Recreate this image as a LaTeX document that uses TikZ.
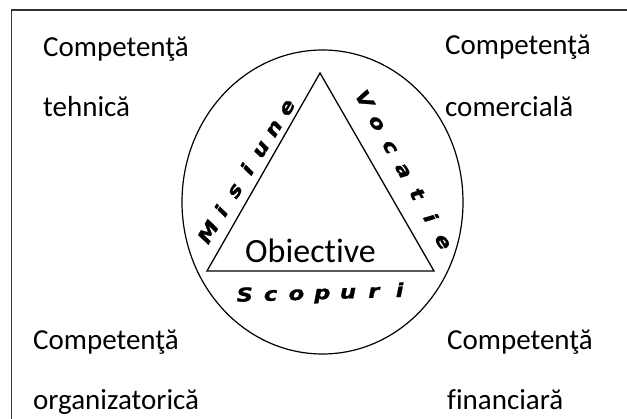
\documentclass[tikz,border=0pt]{standalone}
\usepackage{fontspec}
\setmainfont{Carlito}[Ligatures=NoCommon]
\newfontfamily\artfont{DejaVu Sans}[FakeBold=1.2]
\tikzset{
  label/.style={font=\fontsize{29}{35}\selectfont, inner sep=0pt, anchor=base west},
  art/.style={font=\artfont\bfseries\itshape\fontsize{19}{19}\selectfont, inner sep=0pt, anchor=base},
  frameline/.style={line width=1.6pt, black!80},
  shapeline/.style={line width=1.3pt, black}
}
\newcommand{\wide}[1]{\scalebox{1.2}[1]{#1}}
\begin{document}
\begin{tikzpicture}[x=1pt,y=-1pt]
\useasboundingbox (0,0) rectangle (627,419);
\clip (0,0) rectangle (627,419);
% frame
\draw[frameline] (11.5,10) rectangle (660,460);
% ellipse and triangle
\coordinate (c) at (322.5,202);
\draw[shapeline, line width=1.2pt] (c) ellipse [x radius=140.5, y radius=152];
\coordinate (apex) at (320,73);
\coordinate (br) at (434,271);
\coordinate (bl) at (207,271);
\draw[shapeline] (apex) -- (br) -- (bl) -- cycle;
% texts
\node[label] (t1) at (43,57) {Competenţă};
\node[label] (t2) at (43,117) {tehnică};
\node[label] (t3) at (445,55) {Competenţă};
\node[label] (t4) at (445,117) {comercială};
\node[label] (t5) at (33,350) {Competenţă};
\node[label] (t6) at (33,410) {organizatorică};
\node[label] (t7) at (447,350) {Competenţă};
\node[label] (t8) at (447,410) {financiară};
\node[font=\fontsize{34}{40}\selectfont, inner sep=0pt, anchor=base west] (obj) at (245,263) {Obiective};
% wordart letters
\foreach \ch [count=\i from 0] in {M,i,s,i,u,n,e}
  \node[art, rotate=59] (mis\i) at ({214+13*\i},{235.5-20.8*\i}) {\wide{\ch}};
\foreach \ch [count=\i from 0] in {V,o,c,a,t,i,e}
  \node[art, rotate=-60] (voc\i) at ({358.7+13.2*\i},{102.5+23.7*\i}) {\wide{\ch}};
\foreach \ch [count=\i from 0] in {S,c,o,p,u,r,i}
  \node[art, rotate=2] (sco\i) at ({245+25.8*\i},{301.5-0.75*\i}) {\wide{\ch}};
\end{tikzpicture}
\end{document}
